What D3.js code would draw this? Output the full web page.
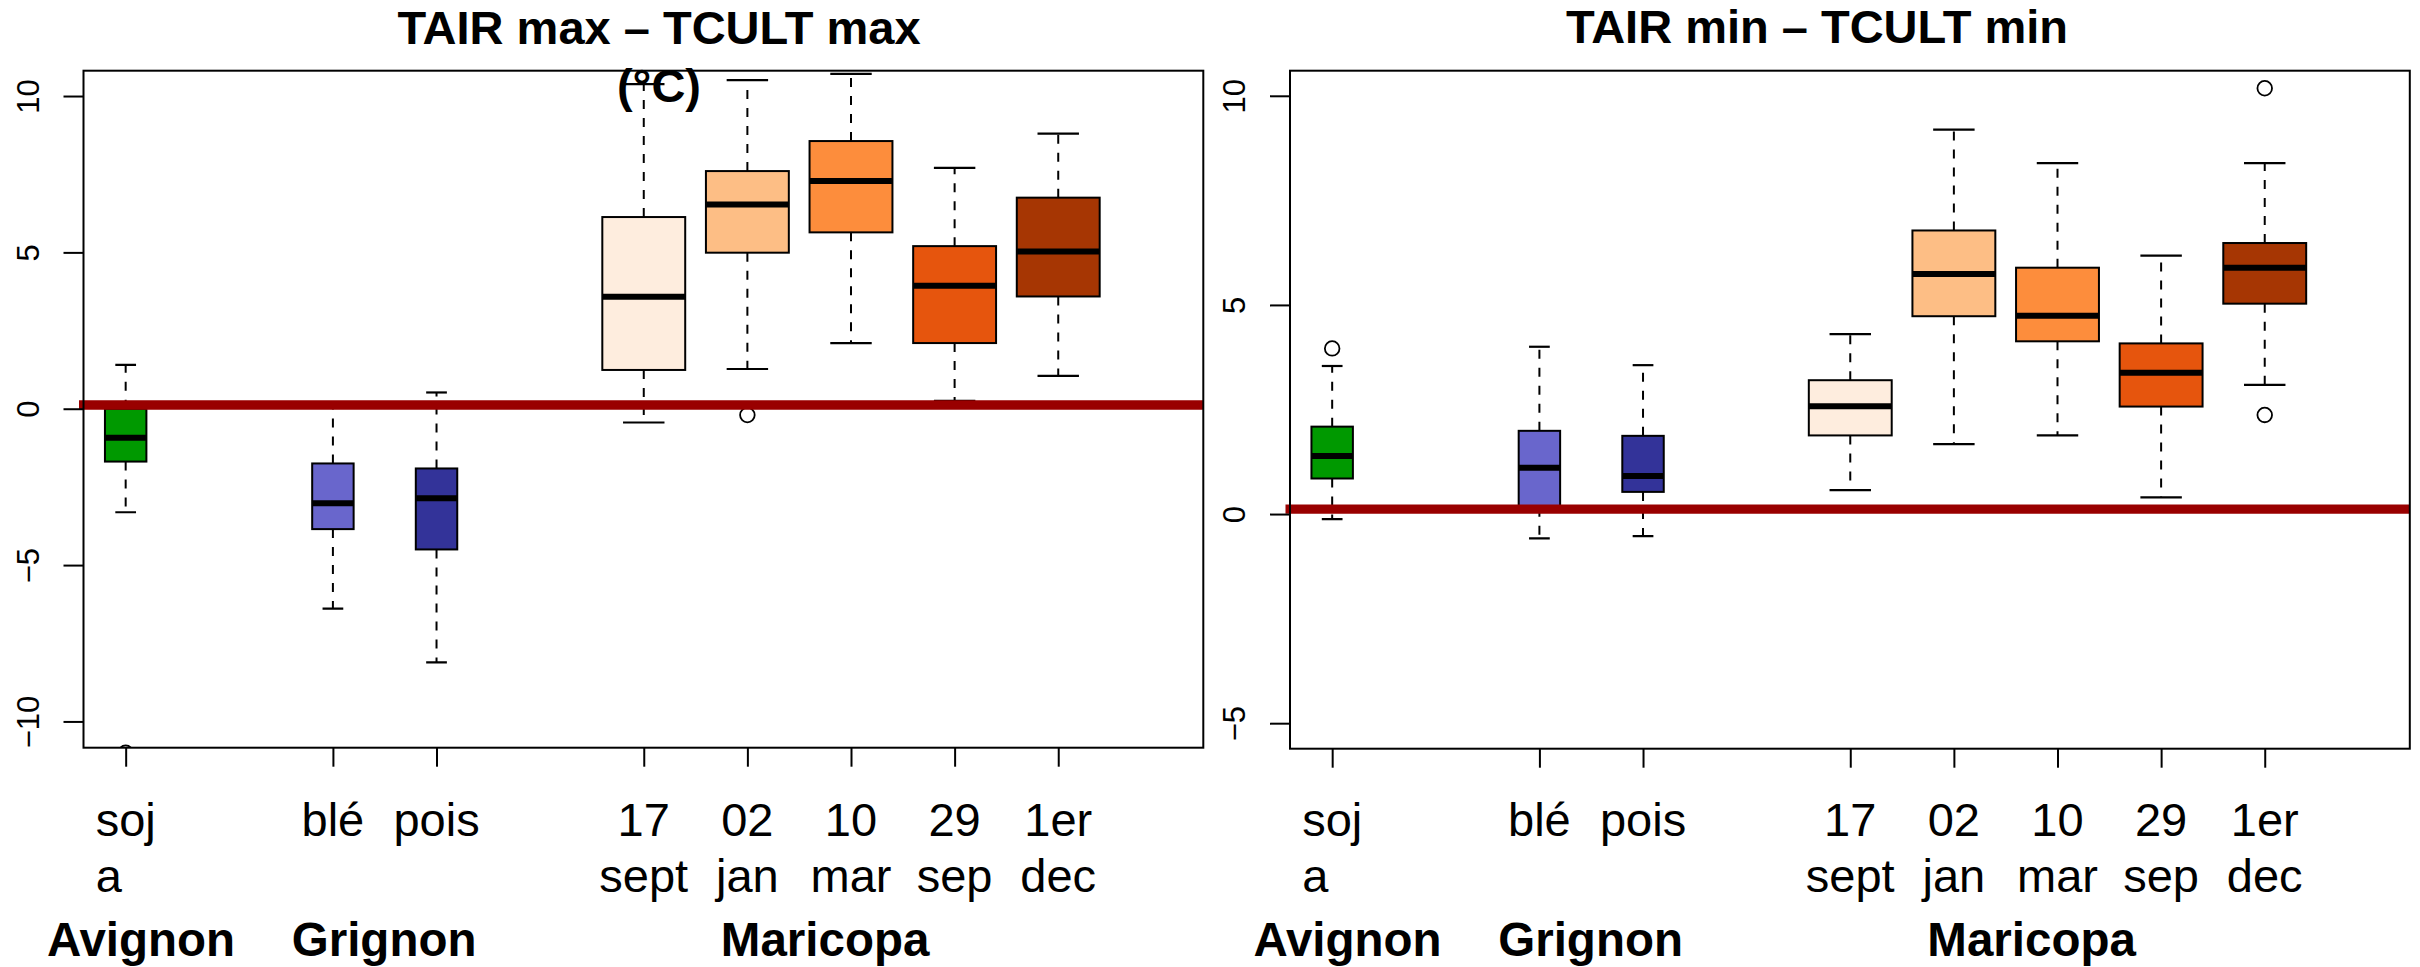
<!DOCTYPE html>
<html>
<head>
<meta charset="utf-8">
<script src="https://cdn.jsdelivr.net/npm/d3@7"></script>
<style>
  body { margin: 0; background: #fff; }
  svg { display: block; }
  text { font-family: "Liberation Sans", Arial, sans-serif; fill: #000; }
</style>
</head>
<body>
<svg id="chart" width="2420" height="967"></svg>
<script>
// ---- data -------------------------------------------------------------
const categories = ["soja", "blé", "pois", "17 sept", "02 jan", "10 mar", "29 sep", "1er dec"];
const labelLines = [["soj", "a"], ["blé"], ["pois"], ["17", "sept"], ["02", "jan"], ["10", "mar"], ["29", "sep"], ["1er", "dec"]];
const sites = ["Avignon", "Grignon", "Grignon", "Maricopa", "Maricopa", "Maricopa", "Maricopa", "Maricopa"];
const slots = [1, 3, 4, 6, 7, 8, 9, 10];
const siteNames = ["Avignon", "Grignon", "Maricopa"];

// TAIR max - TCULT max
const maxLow    = [-3.31, -6.39, -8.11, -0.44, 1.27, 2.10, 0.25, 1.05];
const maxQ1     = [-1.69, -3.85, -4.50, 1.24, 4.99, 5.64, 2.10, 3.59];
const maxMedian = [-0.93, -3.02, -2.86, 3.58, 6.53, 7.28, 3.93, 5.03];
const maxQ3     = [0.00, -1.75, -1.91, 6.13, 7.60, 8.56, 5.20, 6.75];
const maxHigh   = [1.40, 0.05, 0.52, 10.38, 10.51, 10.71, 7.70, 8.80];
const maxOutliers = [[-11.0], [], [], [], [-0.2], [], [], []];

// TAIR min - TCULT min
const minLow    = [-0.12, -0.58, -0.53, 0.57, 1.67, 1.88, 0.40, 3.09];
const minQ1     = [0.85, 0.15, 0.53, 1.88, 4.73, 4.13, 2.57, 5.03];
const minMedian = [1.39, 1.11, 0.91, 2.58, 5.74, 4.74, 3.38, 5.89];
const minQ3     = [2.09, 1.99, 1.87, 3.20, 6.78, 5.89, 4.08, 6.48];
const minHigh   = [3.54, 4.00, 3.56, 4.30, 9.19, 8.39, 6.18, 8.39];
const minOutliers = [[3.96], [], [], [], [], [], [], [10.18, 2.37]];

const yTicksMax = [-10, -5, 0, 5, 10];
const yTicksMin = [-5, 0, 5, 10];
const referenceValue = 0.12;

// ---- styles -----------------------------------------------------------
const fills = ["#009900", "#6966CC", "#333399", "#FEEDDE", "#FDBE85", "#FD8D3C", "#E6550D", "#A63603"];
const boxWidthBySite = { Avignon: 0.4, Grignon: 0.4, Maricopa: 0.8 };
const groupLabelAt = { Avignon: 1.148, Grignon: 3.494, Maricopa: 7.75 };
const labelAlign = ["start", "middle", "middle", "middle", "middle", "middle", "middle", "middle"];
const refColor = "#990000";
const labelSize = 47;

const svg = d3.select("#chart");

function panelStats(low, q1, med, q3, high, outs) {
  return categories.map((c, i) => ({
    name: c, lines: labelLines[i], site: sites[i], slot: slots[i], fill: fills[i],
    low: low[i], q1: q1[i], med: med[i], q3: q3[i], high: high[i], outs: outs[i]
  }));
}

const panels = [
  {
    id: "pmax", left: 83.5, right: 1203.3, top: 70.7, bottom: 747.7,
    yDomain: [-10.84, 10.81], ticks: yTicksMax,
    title: ["TAIR max – TCULT max", "(°C)"], titleX: 659, titleY: 44,
    stats: panelStats(maxLow, maxQ1, maxMedian, maxQ3, maxHigh, maxOutliers)
  },
  {
    id: "pmin", left: 1290, right: 2409.8, top: 70.7, bottom: 748.7,
    yDomain: [-5.61, 10.6], ticks: yTicksMin,
    title: ["TAIR min – TCULT min"], titleX: 1817, titleY: 43,
    stats: panelStats(minLow, minQ1, minMedian, minQ3, minHigh, minOutliers)
  }
];

const fmt = d => (d < 0 ? "\u2212" + Math.abs(d) : String(d));

panels.forEach(p => {
  const x = d3.scaleLinear().domain([0.593, 11.40]).range([p.left, p.right]);
  const y = d3.scaleLinear().domain(p.yDomain).range([p.bottom, p.top]);
  const unit = x(1) - x(0);

  svg.append("clipPath").attr("id", "clip-" + p.id)
    .append("rect")
    .attr("x", p.left).attr("y", p.top)
    .attr("width", p.right - p.left).attr("height", p.bottom - p.top);

  const g = svg.append("g").attr("clip-path", `url(#clip-${p.id})`);

  const box = g.selectAll("g.box").data(p.stats).join("g").attr("class", "box");

  // whiskers
  box.append("line")
    .attr("x1", d => x(d.slot)).attr("x2", d => x(d.slot))
    .attr("y1", d => y(d.q3)).attr("y2", d => y(d.high))
    .attr("stroke", "#000").attr("stroke-width", 2).attr("stroke-dasharray", "9,9");
  box.append("line")
    .attr("x1", d => x(d.slot)).attr("x2", d => x(d.slot))
    .attr("y1", d => y(d.q1)).attr("y2", d => y(d.low))
    .attr("stroke", "#000").attr("stroke-width", 2).attr("stroke-dasharray", "9,9");

  // staples
  ["high", "low"].forEach(k => {
    box.append("line")
      .attr("x1", d => x(d.slot) - boxWidthBySite[d.site] * unit / 4)
      .attr("x2", d => x(d.slot) + boxWidthBySite[d.site] * unit / 4)
      .attr("y1", d => y(d[k])).attr("y2", d => y(d[k]))
      .attr("stroke", "#000").attr("stroke-width", 2.2);
  });

  // boxes
  box.append("rect")
    .attr("x", d => x(d.slot) - boxWidthBySite[d.site] * unit / 2)
    .attr("width", d => boxWidthBySite[d.site] * unit)
    .attr("y", d => y(d.q3))
    .attr("height", d => y(d.q1) - y(d.q3))
    .attr("fill", d => d.fill)
    .attr("stroke", "#000").attr("stroke-width", 2);

  // medians
  box.append("line")
    .attr("x1", d => x(d.slot) - boxWidthBySite[d.site] * unit / 2)
    .attr("x2", d => x(d.slot) + boxWidthBySite[d.site] * unit / 2)
    .attr("y1", d => y(d.med)).attr("y2", d => y(d.med))
    .attr("stroke", "#000").attr("stroke-width", 6);

  // outliers
  box.selectAll("circle").data(d => d.outs.map(v => ({ v, slot: d.slot }))).join("circle")
    .attr("cx", d => x(d.slot)).attr("cy", d => y(d.v)).attr("r", 7.3)
    .attr("fill", "none").attr("stroke", "#000").attr("stroke-width", 1.8);

  // reference line
  svg.append("line")
    .attr("x1", p.left - 4.5).attr("x2", p.right)
    .attr("y1", y(referenceValue)).attr("y2", y(referenceValue))
    .attr("stroke", refColor).attr("stroke-width", 9.3);

  // frame
  svg.append("rect")
    .attr("x", p.left).attr("y", p.top)
    .attr("width", p.right - p.left).attr("height", p.bottom - p.top)
    .attr("fill", "none").attr("stroke", "#000").attr("stroke-width", 2);

  // y axis
  const ya = svg.append("g").attr("transform", `translate(${p.left},0)`)
    .call(d3.axisLeft(y).tickValues(p.ticks).tickSize(20).tickSizeOuter(0).tickFormat(fmt));
  ya.select(".domain").remove();
  ya.selectAll(".tick line").attr("stroke", "#000").attr("stroke-width", 2);
  ya.selectAll(".tick text")
    .attr("transform", "rotate(-90)")
    .attr("x", 0).attr("y", -45).attr("dy", null)
    .attr("text-anchor", "middle")
    .attr("font-size", 31)
    .attr("font-family", "Liberation Sans, Arial, sans-serif")
    .attr("fill", "#000");

  // x axis ticks
  const xa = svg.append("g").attr("transform", `translate(0,${p.bottom})`)
    .call(d3.axisBottom(x).tickValues(slots).tickSize(19).tickSizeOuter(0).tickFormat(""));
  xa.select(".domain").remove();
  xa.selectAll(".tick line").attr("stroke", "#000").attr("stroke-width", 2);

  // category labels
  p.stats.forEach((d, i) => {
    const t = svg.append("text").attr("font-size", labelSize);
    const cx = x(d.slot);
    if (labelAlign[i] === "start") {
      const probe = svg.append("text").attr("font-size", labelSize).text(d.lines[0]);
      const w = probe.node().getComputedTextLength();
      probe.remove();
      d.lines.forEach((ln, k) => {
        t.append("tspan").attr("x", cx - w / 2).attr("y", 836 + k * 56)
          .attr("text-anchor", "start").text(ln);
      });
    } else {
      t.attr("text-anchor", "middle");
      d.lines.forEach((ln, k) => {
        t.append("tspan").attr("x", cx).attr("y", 836 + k * 56).text(ln);
      });
    }
  });

  // site labels
  siteNames.forEach(s => {
    svg.append("text")
      .attr("x", x(groupLabelAt[s])).attr("y", 956)
      .attr("text-anchor", "middle").attr("font-size", 47.5).attr("font-weight", "bold")
      .text(s);
  });

  // title
  p.title.forEach((ln, k) => {
    svg.append("text")
      .attr("x", p.titleX).attr("y", p.titleY + k * 58)
      .attr("text-anchor", "middle").attr("font-size", 47).attr("font-weight", "bold")
      .text(ln);
  });
});
</script>
</body>
</html>
